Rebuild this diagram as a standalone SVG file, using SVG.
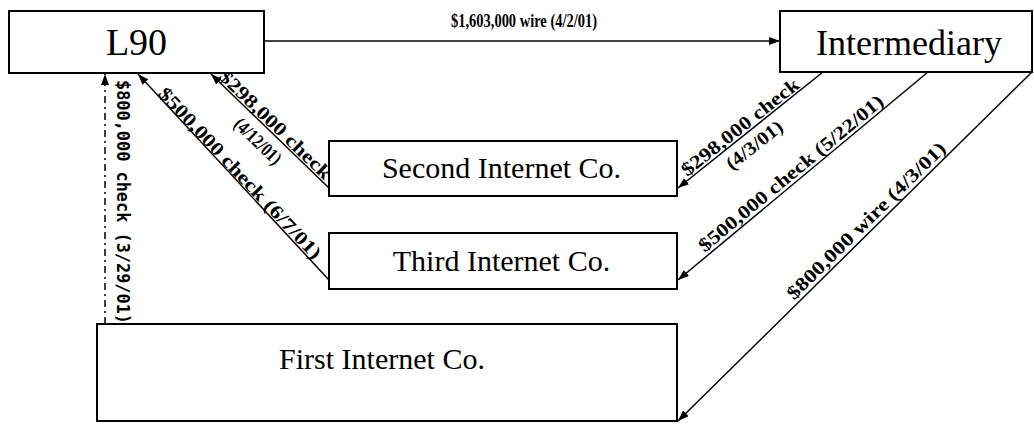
<svg xmlns="http://www.w3.org/2000/svg" width="1034" height="424" viewBox="0 0 1034 424">
  <style>
    .box { fill: #fff; stroke: #000; stroke-width: 2; }
    .name { font-family: "Liberation Serif", "Times New Roman", serif; fill: #000; text-anchor: middle; }
    .link { fill: none; stroke: #000; stroke-width: 1.5; marker-end: url(#head); }
    .dashed { stroke-dasharray: 7 4 2 4; }
    .lbl { font-family: "Liberation Serif", "Times New Roman", serif; font-weight: bold; font-size: 19px; fill: #000; }
    .mono { font-family: "DejaVu Sans Mono", "Liberation Mono", monospace; font-weight: bold; font-size: 17px; fill: #000; }
  </style>
  <defs>
    <marker id="head" markerUnits="userSpaceOnUse" markerWidth="11" markerHeight="8" refX="11" refY="4" orient="auto">
      <path d="M0,0 L11,4 L0,8 z" fill="#000"/>
    </marker>
  </defs>
  <rect width="1034" height="424" fill="#fff"/>

  <!-- connectors -->
  <g id="connectors">
    <path class="link" d="M264,41 L780,41"/>
    <path class="link dashed" d="M105,324 L105,74"/>
    <path class="link" d="M329,188 L211,74"/>
    <path class="link" d="M329,280 L138,74"/>
    <path class="link" d="M823,72 L678,188"/>
    <path class="link" d="M928,72 L678,280"/>
    <path class="link" d="M1032,72 L678,421"/>

    <text class="lbl" x="451" y="27" font-size="16" textLength="146" lengthAdjust="spacingAndGlyphs">$1,603,000 wire (4/2/01)</text>
    <text class="mono" transform="translate(117,80) rotate(90)" textLength="244" lengthAdjust="spacingAndGlyphs">$800,000 check (3/29/01)</text>
    <text class="lbl" transform="translate(216.3,79.2) rotate(44)" y="-2" textLength="148" lengthAdjust="spacingAndGlyphs">$298,000 check</text>
    <text class="lbl" transform="translate(212,75) rotate(44)" x="50" y="22" font-size="13" textLength="58" lengthAdjust="spacingAndGlyphs">(4/12/01)</text>
    <text class="lbl" transform="translate(155.8,95.9) rotate(46.7)" y="-2" textLength="228" lengthAdjust="spacingAndGlyphs">$500,000 check (6/7/01)</text>
    <text class="lbl" transform="translate(689,179.3) rotate(-38.4)" y="-3" textLength="145" lengthAdjust="spacingAndGlyphs">$298,000 check</text>
    <text class="lbl" transform="translate(719.5,155.1) rotate(-38.4)" y="20" font-size="18" textLength="67" lengthAdjust="spacingAndGlyphs">(4/3/01)</text>
    <text class="lbl" transform="translate(707.3,255.8) rotate(-39.6)" y="-4" textLength="234" lengthAdjust="spacingAndGlyphs">$500,000 check (5/22/01)</text>
    <text class="lbl" transform="translate(797.5,304.2) rotate(-44.6)" y="-5" textLength="215" lengthAdjust="spacingAndGlyphs">$800,000 wire (4/3/01)</text>
  </g>

  <!-- nodes -->
  <g id="l90">
    <rect class="box" x="9" y="11" width="255" height="62"/>
    <text class="name" x="136.5" y="55" font-size="38">L90</text>
  </g>
  <g id="intermediary">
    <rect class="box" x="780" y="11" width="252" height="61"/>
    <text class="name" x="909" y="55" font-size="36">Intermediary</text>
  </g>
  <g id="second">
    <rect class="box" x="329" y="141" width="348" height="55"/>
    <text class="name" x="501.5" y="178" font-size="30">Second Internet Co.</text>
  </g>
  <g id="third">
    <rect class="box" x="329" y="233" width="348" height="56"/>
    <text class="name" x="501.5" y="271" font-size="30">Third Internet Co.</text>
  </g>
  <g id="first">
    <rect class="box" x="97" y="324" width="580" height="97"/>
    <text class="name" x="382" y="369" font-size="30">First Internet Co.</text>
  </g>
</svg>
